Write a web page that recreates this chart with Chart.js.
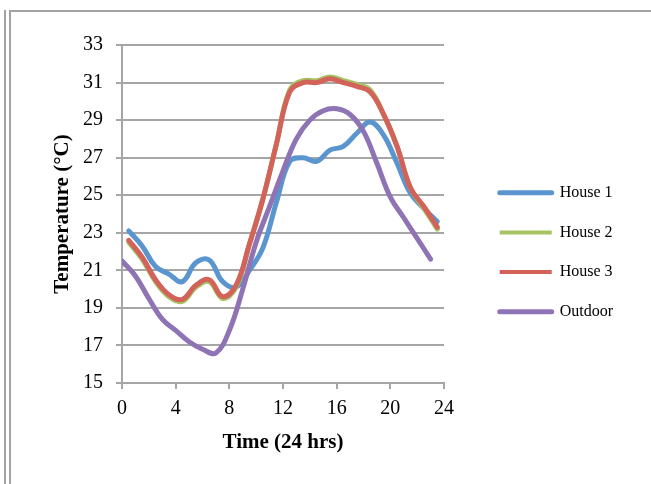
<!DOCTYPE html>
<html>
<head>
<meta charset="utf-8">
<script src="https://cdn.jsdelivr.net/npm/chart.js@4.4.1/dist/chart.umd.min.js"></script>
<style>
  html, body { margin: 0; padding: 0; background: #ffffff; }
  body { width: 651px; height: 484px; position: relative; overflow: hidden; }
  .frame { position: absolute; background: #a3a3a3; }
  #wrap { position: absolute; left: 0; top: 0; width: 651px; height: 484px; }
</style>
</head>
<body>
<div class="frame" style="left:4px; top:10px; width:2px; height:474px;"></div>
<div class="frame" style="left:9px; top:10px; width:2px; height:474px;"></div>
<div class="frame" style="left:9px; top:10px; width:642px; height:2px;"></div>
<div id="wrap"><canvas id="c" width="651" height="484"></canvas></div>
<script>
// ---- data ----
const houseHours = [0.5, 1.5, 2.5, 3.5, 4.5, 5.5, 6.5, 7.5, 8.5, 9.5, 10.5, 11.5,
                    12.5, 13.5, 14.5, 15.5, 16.5, 17.5, 18.5, 19.5, 20.5, 21.5, 22.5, 23.5];
const outdoorHours = [0, 1, 2, 3, 4, 5, 6, 7, 8, 9, 10, 11,
                      12, 13, 14, 15, 16, 17, 18, 19, 20, 21, 22, 23];
const house1 = [23.1, 22.3, 21.2, 20.8, 20.4, 21.4, 21.55, 20.4, 20.1, 21.0, 22.2, 24.6,
                26.8, 27.0, 26.8, 27.4, 27.6, 28.3, 28.9, 28.2, 26.7, 25.1, 24.3, 23.6];
const house2 = [22.5, 21.6, 20.4, 19.6, 19.35, 20.1, 20.4, 19.5, 20.1, 22.4, 24.8, 27.7,
                30.6, 31.1, 31.1, 31.3, 31.1, 30.9, 30.6, 29.3, 27.6, 25.4, 24.3, 23.2];
const house3 = [22.6, 21.7, 20.5, 19.7, 19.45, 20.2, 20.5, 19.6, 20.2, 22.4, 24.8, 27.7,
                30.5, 31.0, 31.0, 31.2, 31.0, 30.8, 30.5, 29.3, 27.6, 25.4, 24.4, 23.3];
const outdoor = [21.5, 20.7, 19.5, 18.4, 17.8, 17.2, 16.8, 16.6, 17.8, 20.0, 22.5, 24.4,
                 26.3, 28.0, 29.0, 29.5, 29.6, 29.3, 28.4, 26.7, 24.9, 23.8, 22.7, 21.6];
const seriesNames = ['House 1', 'House 2', 'House 3', 'Outdoor'];
const xTicks = [0, 4, 8, 12, 16, 20, 24];
const yTicks = [15, 17, 19, 21, 23, 25, 27, 29, 31, 33];

const colors = ['#5b95cf', '#a6c463', '#d2625a', '#8f74b5'];
const legendCaps = ['round', 'butt', 'butt', 'round'];
const legendWidths = [5, 4, 4, 5];

function pts(xs, ys) { return xs.map((x, i) => ({ x: x, y: ys[i] })); }

const FONT = "'Liberation Serif', 'Times New Roman', serif";
Chart.defaults.font.family = FONT;
Chart.defaults.color = '#000';

const legendPlace = {
  id: 'legendPlace',
  beforeDraw(chart) {
    const lg = chart.legend;
    if (!lg) return;
    const w = lg.width, h = lg.height;
    lg.left = 476; lg.right = lg.left + w;
    lg.top = 161; lg.bottom = lg.top + Math.max(h, 200);
    lg.height = lg.bottom - lg.top;
  }
};

const datasets = [
  { label: seriesNames[0], data: pts(houseHours, house1), order: 4 },
  { label: seriesNames[1], data: pts(houseHours, house2), order: 3 },
  { label: seriesNames[2], data: pts(houseHours, house3), order: 2 },
  { label: seriesNames[3], data: pts(outdoorHours, outdoor), order: 1 }
].map((d, i) => Object.assign(d, {
  borderColor: colors[i], backgroundColor: colors[i],
  borderWidth: 5, pointRadius: 0, pointStyle: 'line',
  tension: 0.4, fill: false, borderCapStyle: 'round', borderJoinStyle: 'round'
}));

new Chart(document.getElementById('c'), {
  type: 'line',
  data: { datasets: datasets },
  options: {
    responsive: false,
    animation: false,
    layout: { padding: { left: 0, right: 207, top: 45, bottom: 0 } },
    plugins: {
      tooltip: { enabled: false },
      legend: {
        position: 'chartArea',
        align: 'start',
        labels: {
          usePointStyle: true,
          pointStyleWidth: 52,
          padding: 23.7,
          color: '#000',
          font: { size: 16, family: FONT },
          sort: (a, b) => a.datasetIndex - b.datasetIndex,
          generateLabels(chart) {
            const items = Chart.defaults.plugins.legend.labels.generateLabels(chart);
            items.forEach(it => {
              it.lineCap = legendCaps[it.datasetIndex];
              it.lineWidth = legendWidths[it.datasetIndex];
              it.strokeStyle = colors[it.datasetIndex];
              it.pointStyle = 'line';
            });
            return items;
          }
        }
      }
    },
    scales: {
      x: {
        type: 'linear', min: 0, max: 24,
        afterBuildTicks(scale) { scale.ticks = xTicks.map(v => ({ value: v })); },
        afterFit(scale) { scale.height = 101; },
        grid: { drawOnChartArea: false, drawTicks: true, tickLength: 6, color: '#a6a6a6', lineWidth: 2 },
        border: { color: '#a6a6a6', width: 2 },
        ticks: { padding: 8, color: '#000', font: { size: 20, family: FONT }, maxRotation: 0 },
        title: { display: true, text: 'Time (24 hrs)', color: '#000',
                 font: { size: 21, weight: 'bold', family: FONT }, padding: { top: 0, bottom: 29 } }
      },
      y: {
        type: 'linear', min: 15, max: 33,
        afterBuildTicks(scale) { scale.ticks = yTicks.map(v => ({ value: v })); },
        afterFit(scale) { scale.width = 122; },
        grid: { drawTicks: true, tickLength: 6, color: '#a6a6a6', lineWidth: 2 },
        border: { color: '#a6a6a6', width: 2 },
        ticks: { padding: 13, color: '#000', font: { size: 20, family: FONT } },
        title: { display: true, text: 'Temperature (°C)', color: '#000',
                 font: { size: 21, weight: 'bold', family: FONT }, padding: { top: 50, bottom: 0 } }
      }
    }
  },
  plugins: [legendPlace]
});
</script>
</body>
</html>
